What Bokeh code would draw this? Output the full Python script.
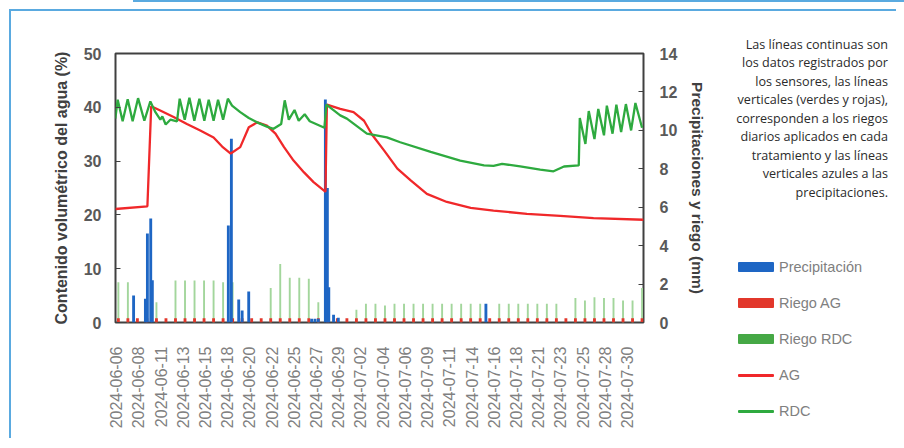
import math
from bokeh.plotting import figure
from bokeh.layouts import row, column
from bokeh.models import (Range1d, LinearAxis, FixedTicker, CustomJSTickFormatter, Div)
from bokeh.embed import file_html
from bokeh.resources import INLINE

# ---------------- data (x in days; y in % or mm) ----------------
TICK_LABELS = ["2024-06-06", "2024-06-08", "2024-06-11", "2024-06-13", "2024-06-15",
               "2024-06-18", "2024-06-20", "2024-06-22", "2024-06-25", "2024-06-27",
               "2024-06-29", "2024-07-02", "2024-07-04", "2024-07-06", "2024-07-09",
               "2024-07-11", "2024-07-14", "2024-07-16", "2024-07-18", "2024-07-21",
               "2024-07-23", "2024-07-25", "2024-07-28", "2024-07-30"]

RIEGO_DAY = [0, 1, 2, 3, 4, 5, 6, 7, 8, 9, 10, 11, 12, 13, 14, 15, 16, 17, 18, 19,
             20, 21, 22, 23, 24, 25, 26, 27, 28, 29, 30, 31, 32, 33, 34, 35, 36, 37,
             38, 39, 40, 41, 42, 43, 44, 45, 46, 47, 48, 49, 50, 51, 52, 53, 54, 55]
RIEGO_RDC = [2.1, 2.1, 0, 0, 1.06, 0, 2.19, 2.19, 2.19, 2.19,
             2.19, 2.1, 2.1, 0, 0, 0, 1.79, 3.05, 2.33, 2.33,
             2.28, 1.06, 0, 0, 0, 0.66, 0.97, 0.97, 0.89, 0.97,
             0.97, 0.97, 0.97, 0.97, 0.97, 0.97, 0.97, 0.97, 0.97, 0,
             0.97, 0.97, 0.97, 0.97, 0.97, 0.97, 0.97, 0,
             1.28, 1.14, 1.32, 1.28, 1.28, 1.14, 1.14, 1.8]
RIEGO_AG = [0.22, 0.22, 0.22, 0.22, 0.22, 0.22, 0.22, 0.22, 0.22, 0.22,
            0.22, 0.22, 0.22, 0.22, 0.22, 0.22, 0.22, 0.22, 0.22, 0.22,
            0.22, 0.22, 0.22, 0.22, 0.22, 0.22, 0.22, 0.22, 0.22, 0.22,
            0.22, 0.22, 0.22, 0.22, 0.22, 0.22, 0.22, 0.22, 0.22, 0.22,
            0.22, 0.22, 0.22, 0.22, 0.22, 0.22, 0.22, 0.22,
            0.22, 0.22, 0.22, 0.22, 0.22, 0.22, 0.22, 0.22]

PRECIP_DAY = [1.6, 2.84, 3.05, 3.4, 3.57, 11.55, 11.87, 12.64, 13.0, 13.69,
              20.3, 20.65, 21.0, 21.74, 21.95, 22.1, 22.6, 23.1, 38.6]
PRECIP_MM = [1.41, 1.23, 4.63, 5.41, 2.2, 5.05, 9.56, 1.2, 0.62, 1.61,
             0.2, 0.2, 0.2, 11.6, 7.0, 1.84, 0.4, 0.25, 0.97]

AG_DAY = [-0.32, 3.05, 3.45, 4.4, 5.8, 7.2, 8.6, 10.0, 10.9, 11.8, 12.8, 13.7, 14.6,
          15.6, 16.5, 17.4, 18.4, 19.5, 20.5, 21.6, 21.75, 21.9, 23.3, 24.7, 25.8,
          26.65, 27.9, 29.3, 30.7, 32.4, 34.5, 37.0, 39.4, 42.9, 46.4, 49.9, 55.15]
AG_VAL = [21.1, 21.6, 40.2, 39.4, 38.2, 36.9, 35.7, 34.4, 32.7, 31.4, 32.6, 36.3, 37.2,
          36.6, 35.1, 32.6, 30.1, 27.9, 26.1, 24.5, 24.3, 40.5, 39.7, 39.1, 37.5,
          34.9, 32.0, 28.6, 26.4, 23.9, 22.4, 21.3, 20.8, 20.2, 19.8, 19.4, 19.1]

RDC_DAY = [-0.32, -0.07, 0.45, 0.98, 1.5, 2.07, 2.73, 3.36, 3.89, 4.41, 4.62, 4.97,
           5.46, 6.16, 6.44, 6.97, 7.46, 7.98, 8.51, 9.03, 9.49, 10.0, 10.47, 11.0,
           11.5, 11.94, 12.8, 13.7, 14.57, 15.6, 16.3, 17.1, 17.47, 17.9, 18.5, 18.94,
           19.57, 20.1, 20.87, 21.64, 21.85, 23.3, 24.0, 26.1, 28.2, 29.6, 32.8, 35.9,
           38.4, 39.4, 40.3, 42.2, 44.3, 45.7, 46.8, 48.35, 48.46, 49.05, 49.4, 50.0,
           50.4, 51.0, 51.3, 51.9, 52.3, 52.8, 53.3, 53.85, 54.3, 55.0]
RDC_VAL = [37.9, 41.4, 37.4, 41.5, 37.4, 41.7, 37.5, 41.1, 39.1, 37.7, 38.3, 36.8,
           37.7, 37.4, 41.6, 37.7, 41.8, 37.5, 41.6, 37.5, 41.4, 37.5, 41.4, 37.7,
           41.6, 40.3, 39.1, 38.0, 37.2, 36.4, 36.0, 36.9, 41.3, 37.7, 39.5, 37.5,
           38.7, 37.4, 36.8, 36.2, 40.5, 38.5, 37.9, 35.1, 34.4, 33.5, 31.7, 30.1,
           29.2, 29.1, 29.5, 29.0, 28.4, 28.1, 29.0, 29.2, 38.0, 33.2, 39.3, 34.1,
           39.7, 34.8, 40.3, 35.1, 40.5, 35.4, 40.6, 35.7, 40.8, 36.2]

NOTE_LINES = ["Las líneas continuas son", "los datos registrados por",
              "los sensores, las líneas", "verticales (verdes y rojas),",
              "corresponden a los riegos", "diarios aplicados en cada",
              "tratamiento y las líneas", "verticales azules a las",
              "precipitaciones."]
LEGEND_LABELS = ["Precipitación", "Riego AG", "Riego RDC", "AG", "RDC"]

FONT = "Liberation Sans"
C_PP, C_AGB, C_RDCB, C_RDCB_LIGHT = "#1e66c4", "#e2372b", "#45a845", "#a3d69c"
C_AG, C_RDC = "#f0282a", "#2eaa3f"
BLUE_FRAME = "2px solid #5aaae0"

# ---------------- main chart ----------------
p = figure(frame_width=528, frame_height=269,
           x_range=Range1d(-0.3, 55.15), y_range=Range1d(0, 50),
           output_backend="svg", toolbar_location=None,
           min_border_left=104, min_border_right=77,
           min_border_top=42, min_border_bottom=116)
p.extra_y_ranges = {"mm": Range1d(0, 14)}
p.grid.visible = False
p.outline_line_color = "#404040"
p.outline_line_width = 2

xa = p.xaxis[0]
xa.ticker = FixedTicker(ticks=[-0.24 + i * 56 / 24 for i in range(len(TICK_LABELS))])
xa.formatter = CustomJSTickFormatter(args=dict(labels=TICK_LABELS),
                                     code="return labels[Math.round((tick + 0.24) * 24 / 56)];")
xa.major_label_orientation = math.pi / 2
xa.major_tick_line_color = None
xa.minor_tick_line_color = None
xa.axis_line_color = None
xa.major_label_standoff = 18
xa.major_label_text_font = FONT
xa.major_label_text_font_size = "16px"
xa.major_label_text_color = "#808080"

ya = p.yaxis[0]
ya.ticker = FixedTicker(ticks=[0, 10, 20, 30, 40, 50])
ya.axis_line_color = None
ya.major_tick_in = 5
ya.major_tick_out = 0
ya.major_tick_line_color = "#404040"
ya.minor_tick_line_color = None
ya.major_label_standoff = 14
ya.major_label_text_font = FONT
ya.major_label_text_font_size = "16px"
ya.major_label_text_font_style = "bold"
ya.major_label_text_color = "#595959"
ya.axis_label = "Contenido volumétrico del agua (%)"
ya.axis_label_text_font = FONT
ya.axis_label_text_font_size = "16px"
ya.axis_label_text_font_style = "bold"
ya.axis_label_text_color = "#404040"
ya.axis_label_standoff = 11

ra = LinearAxis(y_range_name="mm", ticker=FixedTicker(ticks=[0, 2, 4, 6, 8, 10, 12, 14]))
ra.axis_line_color = None
ra.major_tick_in = 5
ra.major_tick_out = 0
ra.major_tick_line_color = "#404040"
ra.minor_tick_line_color = None
ra.major_label_standoff = 16
ra.major_label_text_font = FONT
ra.major_label_text_font_size = "16px"
ra.major_label_text_font_style = "bold"
ra.major_label_text_color = "#595959"
ra.axis_label = "Precipitaciones y riego (mm)"
ra.axis_label_text_font = FONT
ra.axis_label_text_font_size = "15.5px"
ra.axis_label_text_font_style = "bold"
ra.axis_label_text_color = "#404040"
ra.axis_label_standoff = 9
p.add_layout(ra, "right")

p.vbar(x=RIEGO_DAY, top=RIEGO_RDC, width=0.2, y_range_name="mm",
       fill_color=C_RDCB_LIGHT, line_color=None)
p.vbar(x=RIEGO_DAY, top=RIEGO_AG, width=0.3, y_range_name="mm",
       fill_color=C_AGB, line_color=None)
p.vbar(x=PRECIP_DAY, top=PRECIP_MM, width=0.3, y_range_name="mm",
       fill_color=C_PP, line_color=None)
p.line(AG_DAY, AG_VAL, line_color=C_AG, line_width=2.3)
p.line(RDC_DAY, RDC_VAL, line_color=C_RDC, line_width=2.3)

# ---------------- side panel (HTML): note + legend ----------------
notes_html = "<br>".join(NOTE_LINES)
swatches = [(C_PP, 10), (C_AGB, 10), (C_RDCB, 10), (C_AG, 3), (C_RDC, 3)]
rows_html = ""
for i, (lab, (col, h)) in enumerate(zip(LEGEND_LABELS, swatches)):
    top = 246 + 36 * i
    rows_html += (
        f'<div style="position:absolute;left:18px;top:{top}px;height:20px;'
        f'display:flex;align-items:center;white-space:nowrap;">'
        f'<span style="display:inline-block;width:36px;height:{h}px;background:{col};'
        f'border-radius:1px;"></span>'
        f'<span style="margin-left:5px;font-family:\'{FONT}\';font-size:14.5px;'
        f'color:#808080;">{lab}</span></div>')
side_html = (
    '<div style="position:relative;width:176px;height:427px;">'
    '<div style="position:absolute;right:8px;top:25px;text-align:right;'
    'font-family:\'Open Sans\';font-size:12.6px;line-height:18.46px;color:#2b2b2b;'
    f'white-space:nowrap;">{notes_html}</div>'
    f'{rows_html}</div>')
side = Div(text=side_html, width=176, height=427, margin=0)

top_rule = Div(text="", width=771, height=9, margin=(0, 0, 0, 133),
               styles={"border-top": BLUE_FRAME})
inner = row(p, side, spacing=0,
            styles={"border-top": BLUE_FRAME, "border-left": BLUE_FRAME,
                    "border-right": "none", "border-bottom": "none",
                    "margin-left": "9px"})
layout = column(top_rule, inner, spacing=0)

open("out.html", "w").write(file_html(layout, INLINE))
